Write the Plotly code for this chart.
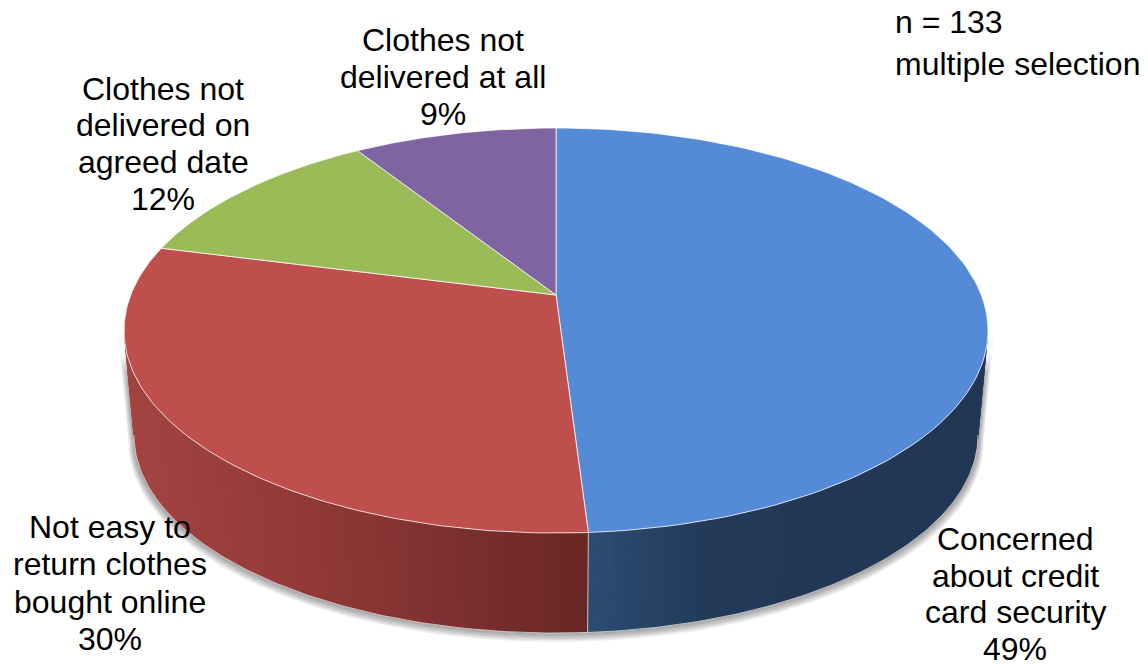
import numpy as np
import plotly.graph_objects as go

# ---- data ----
categories = ["Concerned about credit card security", "Not easy to return clothes bought online",
              "Clothes not delivered on agreed date", "Clothes not delivered at all"]
values = [49, 30, 12, 9]
label_lines = [["Concerned", "about credit", "card security", "49%"],
               ["Not easy to", "return clothes", "bought online", "30%"],
               ["Clothes not", "delivered on", "agreed date", "12%"],
               ["Clothes not", "delivered at all", "9%"]]
note_lines = ["n = 133", "multiple selection"]

# ---- styles / geometry ----
top_colors = ["#558BD6", "#BE4F4D", "#9BBB59", "#8064A2"]
W, H = 1148, 664
CX, CY, B, A, K = 556.0, 295.0, 425.3, 196.3, 0.1753   # perspective disc
LOW_S, LOW_CY = 0.977, 400.5                          # lower rim
WALL_FROM, WALL_TO = 100.0, 260.0                     # silhouette angles
label_pos = [(1015, [539, 576, 612, 649]), (110, [527, 564, 602, 639]),
             (163, [89, 125, 162, 199]), (443, [40, 77, 114])]
FONT = "Liberation Sans"
FSIZE = 32

def top_rim(deg):
    t = np.radians(deg)
    X, Y = np.sin(t), np.cos(t)
    w = 1 + K * Y
    return CX + B * X / w, CY - A * Y / w

def low_rim(deg):
    x, y = top_rim(deg)
    return CX + LOW_S * (x - CX), LOW_CY + LOW_S * (y - CY)

def lerp_color(stops, x):
    xs = [s[0] for s in stops]
    rgb = [np.interp(x, xs, [s[1][i] for s in stops]) for i in range(3)]
    return "rgb(%d,%d,%d)" % tuple(int(round(c)) for c in rgb)

BLUE_WALL = [(588, (44, 76, 114)), (650, (38, 66, 100)), (710, (35, 57, 88)), (990, (34, 55, 85))]
RED_WALL = [(120, (163, 68, 66)), (300, (146, 57, 55)), (450, (124, 48, 47)), (590, (104, 38, 36))]
wall_colors = [BLUE_WALL, RED_WALL]

fractions = np.cumsum([0] + values) / sum(values) * 360.0
fig = go.Figure()

def add_poly(x, y, fill, line=None, lw=0):
    fig.add_trace(go.Scatter(x=list(x), y=list(y), mode="lines", fill="toself", fillcolor=fill,
                             line=dict(color=line or "rgba(0,0,0,0)", width=lw),
                             hoverinfo="skip", showlegend=False))

def add_line(x, y, color, lw):
    fig.add_trace(go.Scatter(x=list(x), y=list(y), mode="lines", line=dict(color=color, width=lw),
                             hoverinfo="skip", showlegend=False))

# soft shadow round the wall
vis = np.linspace(WALL_FROM, WALL_TO, 160)
for i in range(6, 0, -1):
    s = 1 + 0.0022 * i
    tx, ty = top_rim(vis)
    lx, ly = low_rim(vis)
    px = np.r_[tx, lx[::-1]]
    py = np.r_[ty, ly[::-1]]
    add_poly(CX + s * (px - CX), 330 + s * (py - 330) + 0.8 * i, "rgba(60,60,60,0.09)")

# wall strips, only the two slices that face the viewer
for k, (a0, a1) in enumerate([(fractions[0], fractions[1]), (fractions[1], fractions[2])]):
    start = max(a0, WALL_FROM)
    end = min(a1, WALL_TO)
    edges = np.linspace(start, end, 90)
    for j in range(len(edges) - 1):
        seg = np.linspace(edges[j], min(edges[j + 1] + 1.0, end), 4)
        tx, ty = top_rim(seg)
        lx, ly = low_rim(seg)
        add_poly(np.r_[tx, lx[::-1]], np.r_[ty, ly[::-1]], lerp_color(wall_colors[k], tx.mean()))
    seg = np.linspace(start, end, 120)
    lx, ly = low_rim(seg)
    add_line(lx, ly, "rgba(235,235,235,0.75)", 1)

# seam between the two walls
sx, sy = top_rim(fractions[1])
ex, ey = low_rim(fractions[1])
add_line([sx, ex], [sy, ey], "rgba(225,225,225,0.8)", 1)

# top face
for k in range(len(values)):
    arc = np.linspace(fractions[k], fractions[k + 1], 120)
    ax, ay = top_rim(arc)
    add_poly(np.r_[CX, ax, CX], np.r_[CY, ay, CY], top_colors[k], "rgba(255,255,255,0.75)", 1)

# labels
annotations = []
for lines, (cx, ys) in zip(label_lines, label_pos):
    for txt, yy in zip(lines, ys):
        annotations.append(dict(x=cx, y=yy, text=txt, showarrow=False, xanchor="center", yanchor="middle",
                                font=dict(family=FONT, size=FSIZE, color="#000000")))
for txt, yy in zip(note_lines, [22, 64]):
    annotations.append(dict(x=893, y=yy, text=txt, showarrow=False, xanchor="left", yanchor="middle",
                            font=dict(family=FONT, size=FSIZE, color="#000000")))

fig.update_layout(width=W, height=H, margin=dict(l=0, r=0, t=0, b=0), showlegend=False,
                  paper_bgcolor="white", plot_bgcolor="white", annotations=annotations,
                  xaxis=dict(range=[0, W], visible=False, fixedrange=True),
                  yaxis=dict(range=[H, 0], visible=False, fixedrange=True))
fig.write_html("out.html", post_script="document.body.style.margin='0';document.body.style.overflow='hidden';",
               config=dict(displayModeBar=False))
